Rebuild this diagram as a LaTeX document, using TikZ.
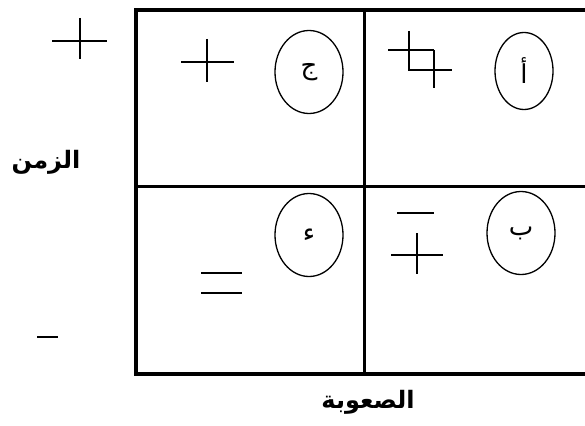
\documentclass[tikz,border=0pt]{standalone}
\usepackage{fontspec}
\newfontfamily\arabicfont[Script=Arabic]{DejaVu Sans}
\TeXXeTstate=1
\usetikzlibrary{shapes.geometric}

\begin{document}
\begin{tikzpicture}[
                x=1pt, y=-1pt,
                frame/.style={line width=3.6pt, line cap=rect},
                divider/.style={line width=3pt},
                sign/.style={line width=1.4pt},
                letterbox/.style={ellipse, draw=black, line width=1.3pt, minimum width=68pt, minimum height=83pt, inner sep=0pt, font=\fontsize{26}{28}\arabicfont},
                axis/.style={font=\fontsize{24}{28}\arabicfont\bfseries}
            ]%
            \useasboundingbox (0,0) rectangle (585,425);
            %
            % Frame and dividers
            \draw[frame] (585,10) -- (136,10) -- (136,374) -- (585,374);
            \draw[divider] (364,10) -- (364,374);
            \draw[divider] (136,186) -- (585,186);
            %
            % Axis labels
            \node[axis] (timeLbl) at (46,162) {\beginR الزمن\endR};
            \node[axis] (diffLbl) at (368,402) {\beginR الصعوبة\endR};
            \draw[sign] (52,41) -- (107,41) (80,18) -- (80,59);
            \draw[sign] (37,337) -- (58,337);
            %
            % Cells
            \node[letterbox, minimum width=58pt, minimum height=77pt] (cellA) at (524,71) {\beginR أ\endR};
            \node[letterbox] (cellB) at (521,233) {\beginR ب\endR};
            \node[letterbox] (cellC) at (309,72) {\beginR ج\endR};
            \node[letterbox] (cellD) at (309,235) {\beginR ء\endR};
            %
            % Signs in the cells
            \draw[sign] (388,50) -- (434,50) (409,31) -- (409,70) -- (452,70) (434,50) -- (434,88);
            \draw[sign] (397,213) -- (434,213) (391,255) -- (443,255) (417,233) -- (417,274);
            \draw[sign] (181,62) -- (234,62) (207,39) -- (207,82);
            \draw[sign] (201,273) -- (242,273) (201,293) -- (242,293);
        \end{tikzpicture}
\end{document}
